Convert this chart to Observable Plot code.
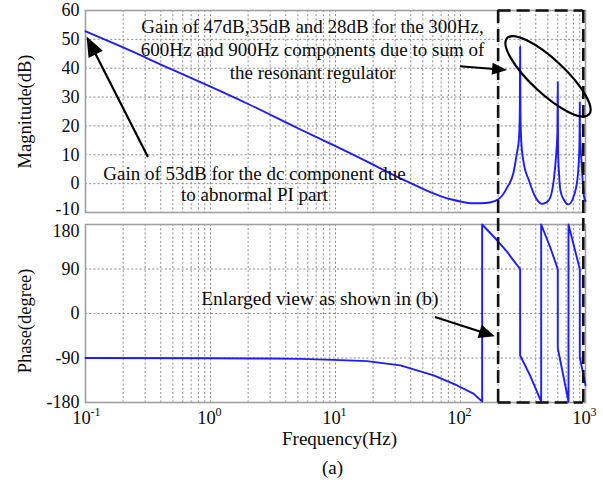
<!DOCTYPE html>
<html>
<head>
<meta charset="utf-8">
<script src="https://cdn.jsdelivr.net/npm/d3@7"></script>
<script src="https://cdn.jsdelivr.net/npm/@observablehq/plot@0.6"></script>
<style>
  html, body { margin: 0; padding: 0; background: #fff; }
  #chart { position: relative; width: 603px; height: 493px; font-family: "Liberation Serif", "Times New Roman", serif; }
  #chart svg { position: absolute; left: 0; overflow: visible; }
</style>
</head>
<body>
<div id="chart"></div>
<script>
// ---- data ----
const magFreq = [0.1, 0.2, 0.5, 1, 2, 5, 10, 20, 33, 40, 50, 60, 70, 85, 100, 127, 160, 190, 215, 237, 264, 282, 294, 298, 300, 302, 306, 318, 353, 398, 450, 508, 557, 583, 596, 600, 603, 615, 630, 680, 730, 800, 865, 893, 897, 900, 903, 928, 975, 1000];
const magDb   = [52.8, 47.2, 39.4, 33.6, 27.6, 19.2, 13, 6.6, 1.8, 0.2, -1.8, -3.3, -4.4, -5.5, -6.2, -6.8, -6.7, -6.0, -4.2, -1.2, 3.4, 10.3, 16, 24, 47.5, 24, 15, 8, 1.1, -4.7, -7, -5.8, 1.1, 10.3, 18, 35.2, 12, 3, -2.4, -6, -7.2, -4.7, 2.2, 12.6, 18, 28.2, 18, 8, -4.7, -6];

const phaseFreq = [0.1, 1, 3, 5.25, 9.6, 17.8, 33, 61, 94, 127, 149, 149, 197, 237, 266, 300, 300, 360, 442, 442, 520, 600, 600, 731, 731, 900, 900, 1000];
const phaseDeg  = [-90, -90.5, -91, -91.7, -93.7, -96.4, -105, -125, -145.6, -162, -178, 180, 147.6, 124, 107, 90, -85, -125, -178, 180, 135, 90, -70, -178, 180, 90, -88, -145];

const magTicks = [-10, 0, 10, 20, 30, 40, 50, 60];
const phaseTicks = [-180, -90, 0, 90, 180];
const decades = [0.1, 1, 10, 100, 1000];
const decadeExp = ["-1", "0", "1", "2", "3"];
const gridFreqs = [0.1, 0.2, 0.3, 0.4, 0.5, 0.6, 0.7, 0.8, 0.9,
                   1, 2, 3, 4, 5, 6, 7, 8, 9,
                   10, 20, 30, 40, 50, 60, 70, 80, 90,
                   100, 200, 300, 400, 500, 600, 700, 800, 900, 1000];
const zoomBox = [200, 960];   // enlarged-view box (Hz)

const magText = "Gain of 47dB,35dB and 28dB for the 300Hz,\n600Hz and 900Hz components due to sum of\nthe resonant regulator";
const dcText = "Gain of 53dB for the dc component due\nto abnormal PI part";
const enlargeText = "Enlarged view as shown in (b)";

const magData = magFreq.map((f, i) => ({f, v: magDb[i]}));
const phaseData = phaseFreq.map((f, i) => ({f, v: phaseDeg[i]}));

// ---- shared styles ----
const FONT = "Liberation Serif";
const gridStyle = {stroke: "#8a8a8a", strokeWidth: 1, strokeDasharray: "2,2.2"};
const frameStyle = {stroke: "#a0a0a0", strokeWidth: 1.6};
const dashStyle = {stroke: "#111", strokeWidth: 2.6, strokeDasharray: "13,6"};
const blue = "#1d1dff";
const ink = "#0a0a0a";

function arrow(from, to, headLen, headHalf) {
  return (index, scales) => {
    const x0 = scales.x(from[0]), y0 = scales.y(from[1]);
    const x1 = scales.x(to[0]), y1 = scales.y(to[1]);
    const dx = x1 - x0, dy = y1 - y0, L = Math.hypot(dx, dy);
    const ux = dx / L, uy = dy / L, nx = -uy, ny = ux;
    const bx = x1 - ux * headLen, by = y1 - uy * headLen;
    const g = d3.create("svg:g");
    g.append("line").attr("x1", x0).attr("y1", y0).attr("x2", bx + ux * 2).attr("y2", by + uy * 2)
      .attr("stroke", "#000").attr("stroke-width", 2.2);
    g.append("polygon")
      .attr("points", `${x1},${y1} ${bx + nx * headHalf},${by + ny * headHalf} ${bx - nx * headHalf},${by - ny * headHalf}`)
      .attr("fill", "#000");
    return g.node();
  };
}

function ellipse(center, rx, ry, angle) {
  return (index, scales) => {
    const cx = scales.x(center[0]), cy = scales.y(center[1]);
    const g = d3.create("svg:g");
    g.append("ellipse").attr("cx", cx).attr("cy", cy).attr("rx", rx).attr("ry", ry)
      .attr("transform", `rotate(${angle},${cx},${cy})`)
      .attr("fill", "none").attr("stroke", "#000").attr("stroke-width", 2.2);
    return g.node();
  };
}

const common = {
  width: 603,
  marginLeft: 85,
  marginRight: 18,
  x: {type: "log", domain: [0.1, 1000], axis: null},
  style: {fontFamily: FONT, fontSize: "18px", background: "transparent", overflow: "visible"}
};

// ---- magnitude panel ----
const magPlot = Plot.plot({
  ...common,
  height: 218,
  marginTop: 10,
  marginBottom: 6,
  y: {domain: [-10, 60], axis: null},
  marks: [
    Plot.ruleX(gridFreqs, gridStyle),
    Plot.ruleY(magTicks, gridStyle),
    Plot.frame(frameStyle),
    Plot.text(magTicks.filter(d => d !== -10), {y: d => d, text: d => String(d), frameAnchor: "left", textAnchor: "end", dx: -6, fontSize: 18, fill: ink}),
    Plot.text(magTicks.filter(d => d === -10), {y: d => d, text: d => String(d), frameAnchor: "left", textAnchor: "end", dx: -6, dy: -3, fontSize: 18, fill: ink}),
    Plot.text(["Magnitude(dB)"], {y: 25, frameAnchor: "left", textAnchor: "middle", dx: -60, rotate: -90, fontSize: 18.5, fill: ink}),
    Plot.line(magData, {x: "f", y: "v", stroke: blue, strokeWidth: 1.9, curve: "monotone-x"}),
    Plot.ruleX(zoomBox, {...dashStyle, insetBottom: -6}),
    Plot.ruleY([60], {x1: zoomBox[0], x2: zoomBox[1], ...dashStyle}),
    Plot.text([magText], {x: 6.55, y: 46.8, fontSize: 19, lineHeight: 1.22, textAnchor: "middle", fill: ink}),
    Plot.text([dcText], {x: 2.25, y: 0, fontSize: 19, lineHeight: 1.1, textAnchor: "middle", fill: ink}),
    arrow([100, 40.5], [238, 39.2], 15, 6),
    arrow([0.319, 9.1], [0.103, 50.8], 20, 8),
    ellipse([506, 37], 56, 17, 43)
  ]
});
magPlot.style.top = "0px";

// ---- phase panel ----
const phasePlot = Plot.plot({
  ...common,
  height: 275,
  marginTop: 6,
  marginBottom: 91,
  y: {domain: [-180, 180], axis: null},
  marks: [
    Plot.ruleX(gridFreqs, gridStyle),
    Plot.ruleY(phaseTicks, gridStyle),
    Plot.frame(frameStyle),
    Plot.text(phaseTicks.filter(d => d !== 180), {y: d => d, text: d => String(d), frameAnchor: "left", textAnchor: "end", dx: -6, fontSize: 18, fill: ink}),
    Plot.text(phaseTicks.filter(d => d === 180), {y: d => d, text: d => String(d), frameAnchor: "left", textAnchor: "end", dx: -6, dy: 7, fontSize: 18, fill: ink}),
    Plot.text(["Phase(degree)"], {y: -15, frameAnchor: "left", textAnchor: "middle", dx: -60, rotate: -90, fontSize: 18.5, fill: ink}),
    Plot.text(decades, {x: d => d, text: () => "10", frameAnchor: "bottom", dy: 21, dx: -4, textAnchor: "middle", fontSize: 18.5, fill: ink}),
    Plot.text(decades, {x: d => d, text: (d, i) => decadeExp[i], frameAnchor: "bottom", dy: 13, dx: 5, textAnchor: "start", fontSize: 12, fill: ink}),
    Plot.text(["Frequency(Hz)"], {frameAnchor: "bottom", dy: 42, dx: 4, fontSize: 19, fill: ink}),
    Plot.text(["(a)"], {frameAnchor: "bottom", dy: 71, dx: -3, fontSize: 19, fill: ink}),
    Plot.line(phaseData, {x: "f", y: "v", stroke: blue, strokeWidth: 1.9}),
    Plot.ruleX(zoomBox, {...dashStyle, insetTop: -6}),
    Plot.ruleY([-180], {x1: zoomBox[0], x2: zoomBox[1], ...dashStyle}),
    Plot.text([enlargeText], {x: 7.5, y: 30, fontSize: 19.5, textAnchor: "middle", fill: ink}),
    arrow([63, -8], [190, -47], 16, 7)
  ]
});
phasePlot.style.top = "218px";

const chart = document.getElementById("chart");
chart.appendChild(magPlot);
chart.appendChild(phasePlot);
</script>
</body>
</html>
